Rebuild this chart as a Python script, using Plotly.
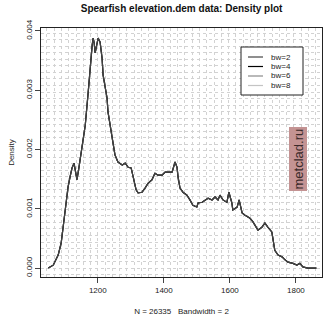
import plotly.graph_objects as go

# Elevation (m) and density
elevation = [1050, 1065, 1080, 1089, 1095, 1104, 1110, 1116, 1122, 1128, 1134, 1137, 1143, 1150,
             1162, 1171, 1177, 1183, 1186, 1189, 1192, 1198, 1201, 1207, 1213, 1216, 1222, 1228,
             1231, 1237, 1243, 1246, 1252, 1261, 1274, 1283, 1292, 1301, 1307, 1316, 1322, 1334,
             1343, 1352, 1364, 1373, 1382, 1395, 1404, 1413, 1425, 1434, 1440, 1443, 1449, 1458,
             1470, 1479, 1488, 1500, 1504, 1516, 1525, 1534, 1546, 1555, 1564, 1570, 1579, 1591,
             1597, 1606, 1609, 1622, 1628, 1637, 1646, 1655, 1661, 1670, 1682, 1685, 1697, 1706,
             1715, 1727, 1730, 1736, 1746, 1758, 1767, 1776, 1791, 1803, 1812, 1821, 1836, 1852, 1862]
density_milli = [0.00, 0.05, 0.22, 0.42, 0.69, 1.10, 1.37, 1.54, 1.69, 1.77, 1.62, 1.49, 1.70, 1.94,
                 2.41, 2.97, 3.43, 3.76, 3.88, 3.80, 3.63, 3.85, 3.88, 3.81, 3.54, 3.26, 3.09, 2.87,
                 2.63, 2.41, 2.24, 2.08, 1.91, 1.79, 1.74, 1.77, 1.70, 1.69, 1.54, 1.32, 1.27, 1.28,
                 1.35, 1.43, 1.49, 1.60, 1.57, 1.57, 1.62, 1.62, 1.62, 1.79, 1.70, 1.54, 1.35, 1.28,
                 1.23, 1.15, 1.06, 1.03, 1.10, 1.11, 1.15, 1.18, 1.15, 1.20, 1.15, 1.23, 1.15, 1.11,
                 1.28, 1.10, 0.98, 1.03, 1.15, 0.93, 0.89, 0.86, 0.84, 0.78, 0.68, 0.64, 0.69, 0.76,
                 0.69, 0.61, 0.51, 0.30, 0.22, 0.19, 0.14, 0.10, 0.08, 0.05, 0.08, 0.02, 0.00, 0.00, 0.00]
density = [v / 1000 for v in density_milli]

bandwidths = ["bw=2", "bw=4", "bw=6", "bw=8"]
bw_colors = ["#444444", "#000000", "#8a8a8a", "#c4c4c4"]

x_ticks = [1200, 1400, 1600, 1800]
y_ticks = [0.000, 0.001, 0.002, 0.003, 0.004]

title = "Spearfish elevation.dem data: Density plot"
x_title = "N = 26335   Bandwidth = 2"
y_title = "Density"

FONT = "Liberation Sans, Arial, sans-serif"

# plot-area geometry in pixels (for the hand-drawn legend)
L, R, T, B = 41, 322, 28, 277
W, H = R - L, B - T


def px(xp):
    return (xp - L) / W


def py(yp):
    return (B - yp) / H


fig = go.Figure()
# draw the lighter curves first so the dark ones end up on top
for name, col in reversed(list(zip(bandwidths, bw_colors))):
    fig.add_trace(go.Scatter(x=elevation, y=density, mode="lines", name=name,
                             line=dict(color=col, width=1.2), showlegend=False))

fig.update_layout(
    width=326, height=319,
    margin=dict(l=L, r=326 - R, t=T, b=319 - B),
    paper_bgcolor="white", plot_bgcolor="white",
    font=dict(family=FONT, size=8, color="#222"),
    title=dict(text="<b>" + title + "</b>", x=0.557, xanchor="center", y=0.972, yanchor="middle",
               font=dict(size=10, color="#111")),
    showlegend=False,
    xaxis=dict(range=[1028, 1879], tickvals=x_ticks, ticks="outside", ticklen=5,
               showline=True, linecolor="#222", linewidth=1, mirror=True,
               showgrid=False, zeroline=False,
               minor=dict(dtick=22, tick0=1002, showgrid=True, gridcolor="#d2d2d2",
                          griddash="dot", gridwidth=1),
               title=dict(text=x_title, font=dict(size=8), standoff=14)),
    yaxis=dict(range=[-0.00015, 0.00405], tickvals=y_ticks, tickformat=".3f",
               ticks="outside", ticklen=5, tickangle=-90,
               showline=True, linecolor="#222", linewidth=1, mirror=True,
               showgrid=False, zeroline=False,
               minor=dict(dtick=0.00011, tick0=0, showgrid=True, gridcolor="#d2d2d2",
                          griddash="dot", gridwidth=1),
               title=dict(text=y_title, font=dict(size=8), standoff=8)),
)

# hand-drawn legend box (R style)
fig.add_shape(type="rect", xref="paper", yref="paper",
              x0=px(241), x1=px(303), y0=py(95), y1=py(47),
              line=dict(color="#222", width=1), fillcolor="white", layer="above")
row_y = [57, 66.5, 76, 85.5]
for name, col, yy in zip(bandwidths, bw_colors, row_y):
    fig.add_shape(type="line", xref="paper", yref="paper",
                  x0=px(248), x1=px(263), y0=py(yy), y1=py(yy),
                  line=dict(color=col, width=1.2), layer="above")
    fig.add_annotation(text=name, xref="paper", yref="paper", x=px(269), y=py(yy),
                       xanchor="left", yanchor="middle", showarrow=False,
                       font=dict(size=8, color="#222"))

# watermark
fig.add_annotation(text="metclad.ru", xref="paper", yref="paper",
                   x=px(307), y=py(159), showarrow=False,
                   textangle=-90, font=dict(size=13, color="#3a2a2a", family=FONT),
                   bgcolor="#c49393", borderpad=1)

fig.write_html("out.html")
